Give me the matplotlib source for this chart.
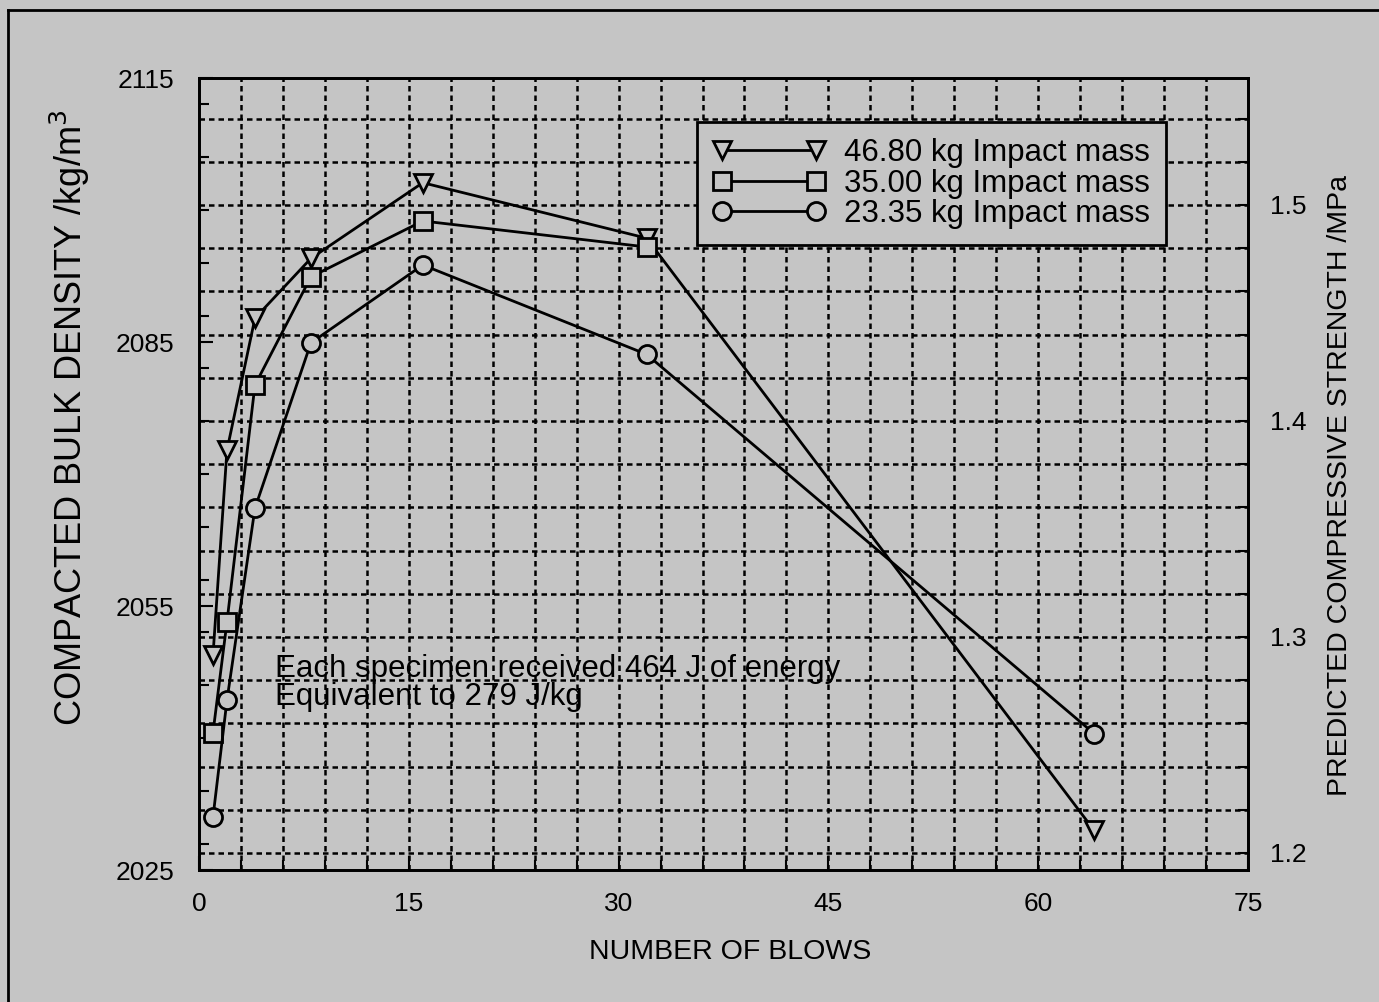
import numpy as np
import matplotlib
matplotlib.use("Agg")
import matplotlib.pyplot as plt
from matplotlib.lines import Line2D
from matplotlib.ticker import MultipleLocator, FixedLocator

plt.rcParams['font.family'] = ['Liberation Sans', 'DejaVu Sans']

# data
blows_46 = [1, 2, 4, 8, 16, 32, 64]
dens_46 = [2049.4, 2072.7, 2087.7, 2094.5, 2103.1, 2096.8, 2029.5]

blows_35 = [1, 2, 4, 8, 16, 32]
dens_35 = [2040.6, 2053.2, 2080.1, 2092.4, 2098.75, 2095.8]

blows_23 = [1, 2, 4, 8, 16, 32, 64]
dens_23 = [2031.0, 2044.3, 2066.1, 2084.9, 2093.75, 2083.6, 2040.5]

labels = ['46.80 kg Impact mass', '35.00 kg Impact mass', '23.35 kg Impact mass']
markers = ['v', 's', 'o']

left_ticks = [2025, 2055, 2085, 2115]
right_ticks = [1.2, 1.3, 1.4, 1.5]
x_ticks = [0, 15, 30, 45, 60, 75]

bg = '#c5c5c5'

fig = plt.figure(figsize=(13.79, 10.02), dpi=100, facecolor=bg)
ax = fig.add_axes([199 / 1379, 1 - 870 / 1002, (1248 - 199) / 1379, (870 - 78) / 1002])
ax.set_facecolor(bg)

ax.set_xlim(0, 75)
ax.set_ylim(2025, 2115)

# right axis drives the horizontal grid
ax2 = ax.twinx()
ax2.set_ylim(1.1921, 1.5588)
ax2.yaxis.set_major_locator(FixedLocator(right_ticks))
ax2.yaxis.set_minor_locator(FixedLocator(np.round(np.arange(1.20, 1.55, 0.02), 2)))
ax2.set_yticklabels(['1.2', '1.3', '1.4', '1.5'], fontsize=19)
ax2.tick_params(axis='y', which='both', direction='in', length=7, width=1.5, pad=16)

grid_kw = dict(color='black', lw=1.8, ls=(0, (2.2, 1.6)), zorder=1)
for g in np.arange(1.20, 1.55, 0.02):
    ax2.axhline(g, **grid_kw)
for g in np.arange(3, 75, 3):
    ax.axvline(g, **grid_kw)

# put the lines above the twin axes
ax.set_zorder(ax2.get_zorder() + 1)
ax.patch.set_visible(False)
ax2.patch.set_visible(True)
ax2.patch.set_facecolor(bg)

handles = []
for xs, ys, m, lab in zip([blows_46, blows_35, blows_23], [dens_46, dens_35, dens_23], markers, labels):
    h, = ax.plot(xs, ys, color='black', lw=2.0, marker=m, markersize=13,
                 markerfacecolor=bg, markeredgecolor='black', markeredgewidth=2.0,
                 label=lab, zorder=3)
    handles.append(h)

ax.yaxis.set_major_locator(FixedLocator(left_ticks))
ax.yaxis.set_minor_locator(MultipleLocator(6))
ax.xaxis.set_major_locator(FixedLocator(x_ticks))
ax.xaxis.set_minor_locator(MultipleLocator(3))
ax.tick_params(axis='both', which='both', direction='in', width=1.5, labelsize=19)
ax.tick_params(axis='both', which='major', length=10)
ax.tick_params(axis='both', which='minor', length=7)
ax.tick_params(axis='y', pad=18)
ax.tick_params(axis='x', pad=16)

for a in (ax, ax2):
    for s in a.spines.values():
        s.set_linewidth(2)

leg = ax.legend(handles=handles, loc='upper left', bbox_to_anchor=(0.475, 0.944),
                borderaxespad=0, fontsize=22.5, numpoints=2, handlelength=3.6,
                labelspacing=0.02, handletextpad=0.6, borderpad=0.5,
                frameon=True, fancybox=False)
leg.get_frame().set_edgecolor('black')
leg.get_frame().set_linewidth(2)
leg.get_frame().set_facecolor(bg)
leg.get_frame().set_alpha(1)

ax.text(0.0725, 0.236, 'Each specimen received 464 J of energy\nEquivalent to 279 J/kg',
        transform=ax.transAxes, fontsize=22.5, ha='left', va='center', linespacing=0.9, zorder=4)

fig.text(70 / 1379, 1 - 418 / 1002, 'COMPACTED BULK DENSITY /kg/m$^3$', rotation=90,
         ha='center', va='center', fontsize=26)
fig.text(1340 / 1379, 1 - 485 / 1002, 'PREDICTED COMPRESSIVE STRENGTH /MPa', rotation=90,
         ha='center', va='center', fontsize=20.5)
fig.text(730 / 1379, 1 - 952 / 1002, 'NUMBER OF BLOWS', ha='center', va='center', fontsize=20.5)

# page frame (top and left edges visible)
fig.add_artist(Line2D([8 / 1379, 1.0], [1 - 10 / 1002, 1 - 10 / 1002], color='black', lw=2,
                      transform=fig.transFigure))
fig.add_artist(Line2D([8 / 1379, 8 / 1379], [0.0, 1 - 10 / 1002], color='black', lw=2,
                      transform=fig.transFigure))

fig.savefig('out.png', dpi=100, facecolor=bg)
